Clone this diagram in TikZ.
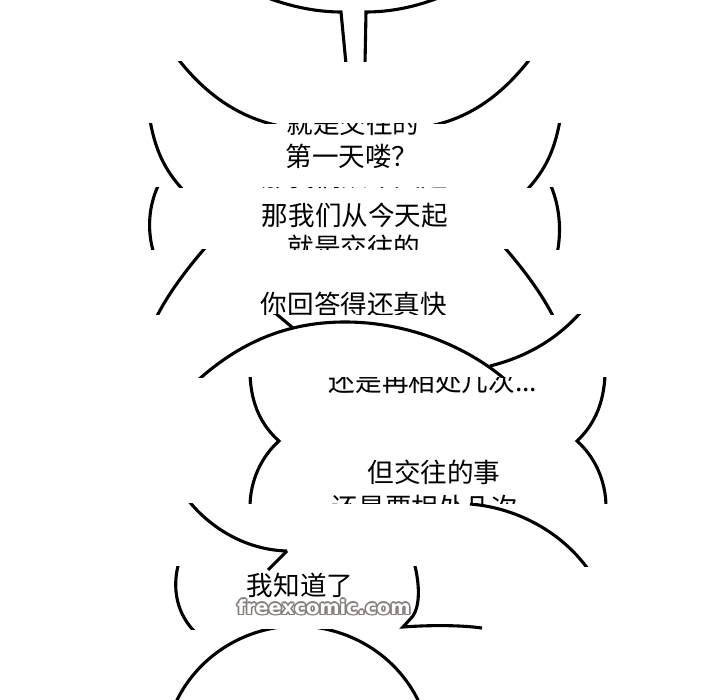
\documentclass[tikz,border=0pt]{standalone}
\usepackage{fontspec}
\newfontfamily\cjk{Noto Sans CJK SC}
\newfontfamily\wmfont{DejaVu Sans}
\definecolor{wmgray}{RGB}{135, 125, 125}
\usepackage{tikz}

\begin{document}
\begin{tikzpicture}[x=1pt, y=-1pt,
  bubble/.style={line width=3.1pt},
  say/.style={font=\cjk\fontsize{26.6}{30}\selectfont, inner sep=0pt},
  wmark/.style={font=\wmfont\bfseries\fontsize{19.5}{22}\selectfont, inner sep=0pt}
]
  \fill[white] (0,0) rectangle (720,700);
  \useasboundingbox (0,0) rectangle (720,700);

  % strip 1: tail of the top bubble
  \begin{scope}
    \clip (0,0) rectangle (720,62);
    \draw[bubble] (268,-2) .. controls (295,8) and (320,12) .. (341,12) -- (346,64);
    \draw[bubble] (438,-2) .. controls (415,7) and (390,12) .. (366,12) -- (365,64);
  \end{scope}

  % strip 2
  \begin{scope}
    \clip (0,62) rectangle (720,124);
    \draw[bubble] (175,55) .. controls (205,95) and (240,118) .. (280,126);
    \draw[bubble] (533,55) .. controls (503,95) and (470,118) .. (430,126);
  \end{scope}

  % strip 3
  \begin{scope}
    \clip (0,124) rectangle (720,188);
    \draw[bubble] (150,120) .. controls (156,155) and (168,174) .. (185,192);
    \draw[bubble] (560,120) .. controls (554,155) and (542,174) .. (525,192);
    \node[say] (datingtop) at (353,123) {就是交往的};
    \node[say] (firstday) at (352,156) {第一天喽？};
  \end{scope}

  % strip 4
  \begin{scope}
    \clip (0,188) rectangle (720,250);
    \draw[bubble] (158,186) .. controls (147,210) and (148,235) .. (154,254);
    \draw[bubble] (551,186) .. controls (561,210) and (561,235) .. (557,254);
    \node[say] (fromtodayedge) at (355,176) {那我们从今天起};
    \node[say] (fromtoday) at (355,215) {那我们从今天起};
    \node[say] (datingcut) at (354,247) {就是交往的};
  \end{scope}

  % strip 5
  \begin{scope}
    \clip (0,250) rectangle (720,315);
    \draw[bubble] (205,248) .. controls (186,270) and (168,294) .. (156,318);
    \draw[bubble] (505,248) .. controls (524,270) and (542,294) .. (554,318);
    \node[say] (quick) at (354,304) {你回答得还真快};
  \end{scope}

  % strip 6
  \begin{scope}
    \clip (0,315) rectangle (720,378);
    \draw[bubble] (274,312) -- (293,328);
    \draw[bubble] (196,382) .. controls (245,337) and (295,322) .. (345,322)
      .. controls (410,322) and (470,348) .. (508,382);
    \draw[bubble] (581,312) .. controls (556,340) and (526,357) .. (490,366);
  \end{scope}

  % strips 7 and 8
  \begin{scope}
    \clip (0,378) rectangle (720,503);
    \draw[bubble] (250,374) .. controls (251,405) and (262,426) .. (279,441)
      .. controls (262,456) and (250,480) .. (250,507);
    \draw[bubble] (605,374) .. controls (604,405) and (593,426) .. (577,441)
      .. controls (594,456) and (606,480) .. (606,507);
    \node[say] (meetmore) at (433,381) {还是再相处几次...};
    \node[say] (butdating) at (434,472) {但交往的事};
    \node[say] (meetcut) at (425,507) {还是要相处几次};
  \end{scope}

  % strip 9
  \begin{scope}
    \clip (0,503) rectangle (720,566);
    \draw[bubble] (188,500) .. controls (212,530) and (248,550) .. (287,551);
    \draw[bubble] (470,504) .. controls (520,508) and (565,535) .. (590,572);
  \end{scope}
  \draw[bubble] (287,551) -- (268,570);

  % strip 10
  \begin{scope}
    \clip (0,566) rectangle (720,629);
    \draw[bubble] (179,562) .. controls (171,590) and (178,615) .. (195,632);
    \draw[bubble] (414,562) .. controls (420,585) and (420,605) .. (413,616) -- (403,627)
      .. controls (430,625) and (460,625) .. (482,628);
    \node[say] (iknow) at (300,585) {我知道了};
  \end{scope}

  % strip 11
  \begin{scope}
    \clip (0,629) rectangle (720,700);
    \draw[bubble] (176,702) .. controls (200,652) and (250,626) .. (297,626)
      .. controls (345,626) and (395,652) .. (419,702);
  \end{scope}

  % watermark
  \foreach \dx/\dy [count=\i] in {-1.6/0, 1.6/0, 0/-1.6, 0/1.6, -1.2/-1.2, 1.2/1.2, -1.2/1.2, 1.2/-1.2}
    \node[wmark, text=wmgray, xshift=\dx pt, yshift=\dy pt] (wmedge\i) at (324,607) {freexcomic.com};
  \node[wmark, text=white] (wm) at (324,607) {freexcomic.com};
\end{tikzpicture}
\end{document}
